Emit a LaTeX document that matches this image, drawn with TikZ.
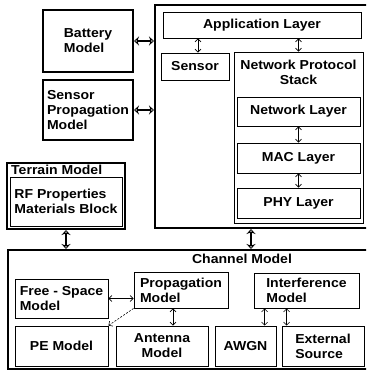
\documentclass[tikz,border=0pt]{standalone}
\usepackage{fontspec}
\setsansfont{Liberation Sans}[FakeStretch=1.08]
\usetikzlibrary{arrows.meta}
\tikzset{
  x=1pt, y=-1pt,
  every node/.style={font=\sffamily\bfseries\fontsize{13}{15}\selectfont},
  % a rectangle given by its left, top, right and bottom edges
  span/.style n args={4}{at={({(#1+#3)/2},{(#2+#4)/2})},
    minimum width={(#3-#1)*1pt}, minimum height={(#4-#2)*1pt}},
  thickbox/.style={draw, line width=2pt, inner sep=0pt},
  thinbox/.style={draw, line width=0.9pt, inner sep=0pt},
  title/.style={inner sep=0pt},
  bigarrow/.style={line width=2.8pt,
    {Stealth[open,length=5pt,width=9pt,line width=0.8pt]}-{Stealth[open,length=5pt,width=9pt,line width=0.8pt]}},
  smallarrow/.style={line width=0.6pt,
    {Straight Barb[length=3pt,width=6pt]}-{Straight Barb[length=3pt,width=6pt]}},
  dasharrow/.style={line width=0.6pt, dash pattern=on 2pt off 1.5pt,
    -{Straight Barb[length=3pt,width=6pt]}},
}
\begin{document}
\begin{tikzpicture}
\useasboundingbox (0,0) rectangle (366,371);
\clip (0,0) rectangle (366,371);

% --- left-hand models ---
\node[thickbox, span={43}{10}{133}{72}, align=left] (battery) {Battery\\Model};
\node[thickbox, span={43}{80}{133}{140}, align=left] (sprop) {Sensor\\Propagation\\Model};

% --- terrain model ---
\node[thickbox, span={7}{163}{125}{229}] (terrain) {};
\node[title, anchor=west] (terraintitle) at (11,170) {Terrain Model};
\node[thinbox, span={10}{177}{122}{226}, align=left] (rf) {RF Properties\\Materials Block};

% --- sensor node stack ---
\node[thickbox, span={155}{5}{380}{228}] (system) {};
\node[thinbox, span={163}{12}{361}{38}] (app) {Application Layer};
\node[thinbox, span={161}{53}{229}{80}] (sensor) {Sensor};
\node[thinbox, span={234}{52}{363}{223}] (nps) {};
\node[title, anchor=north, align=center] (npstitle) at (298.5,60) {Network Protocol\\Stack};
\node[thinbox, span={237}{97}{360}{126}] (net) {Network Layer};
\node[thinbox, span={237}{143}{360}{173}] (mac) {MAC Layer};
\node[thinbox, span={237}{188}{360}{218}] (phy) {PHY Layer};

% --- channel model ---
\node[thickbox, span={8}{250}{380}{369}] (channel) {};
\node[title] (channeltitle) at (242,259) {Channel Model};
\node[thinbox, span={15}{279}{108}{318}, align=left] (free) {Free - Space\\Model};
\node[thinbox, span={134}{272}{228}{308}, align=left] (prop) {Propagation\\Model};
\node[thinbox, span={254}{273}{359}{308}, align=left] (interf) {Interference\\Model};
\node[thinbox, span={15}{326}{108}{366}] (pe) {PE Model};
\node[thinbox, span={116}{326}{208}{366}, align=center] (antenna) {Antenna\\Model};
\node[thinbox, span={215}{326}{276}{366}] (awgn) {AWGN};
\node[thinbox, span={282}{326}{364}{366}, align=left] (ext) {External\\Source};

% --- connectors between blocks ---
\draw[bigarrow] (battery.east) -- (battery.east -| system.west);
\draw[bigarrow] (sprop.east) -- (sprop.east -| system.west);
\draw[bigarrow] (terrain.south) -- (terrain.south |- channel.north);
\draw[bigarrow] ([xshift=97pt]system.south west) -- ([xshift=97pt]system.south west |- channel.north);

\draw[smallarrow] ([xshift=3pt]sensor.north) -- ([xshift=3pt]sensor.north |- app.south);
\draw[smallarrow] (nps.north) -- (nps.north |- app.south);
\draw[smallarrow] (net.south) -- (mac.north);
\draw[smallarrow] (mac.south) -- (phy.north);

\draw[smallarrow] (free.east) -- (free.east -| prop.west);
\draw[smallarrow] ([xshift=-8pt]prop.south) -- ([xshift=-8pt]prop.south |- antenna.north);
\draw[dasharrow] (prop.south west) -- (pe.north east);
\draw[smallarrow] ([xshift=11pt]interf.south west) -- ([xshift=11pt]interf.south west |- awgn.north);
\draw[smallarrow] ([xshift=33pt]interf.south west) -- ([xshift=33pt]interf.south west |- ext.north);
\end{tikzpicture}
\end{document}
